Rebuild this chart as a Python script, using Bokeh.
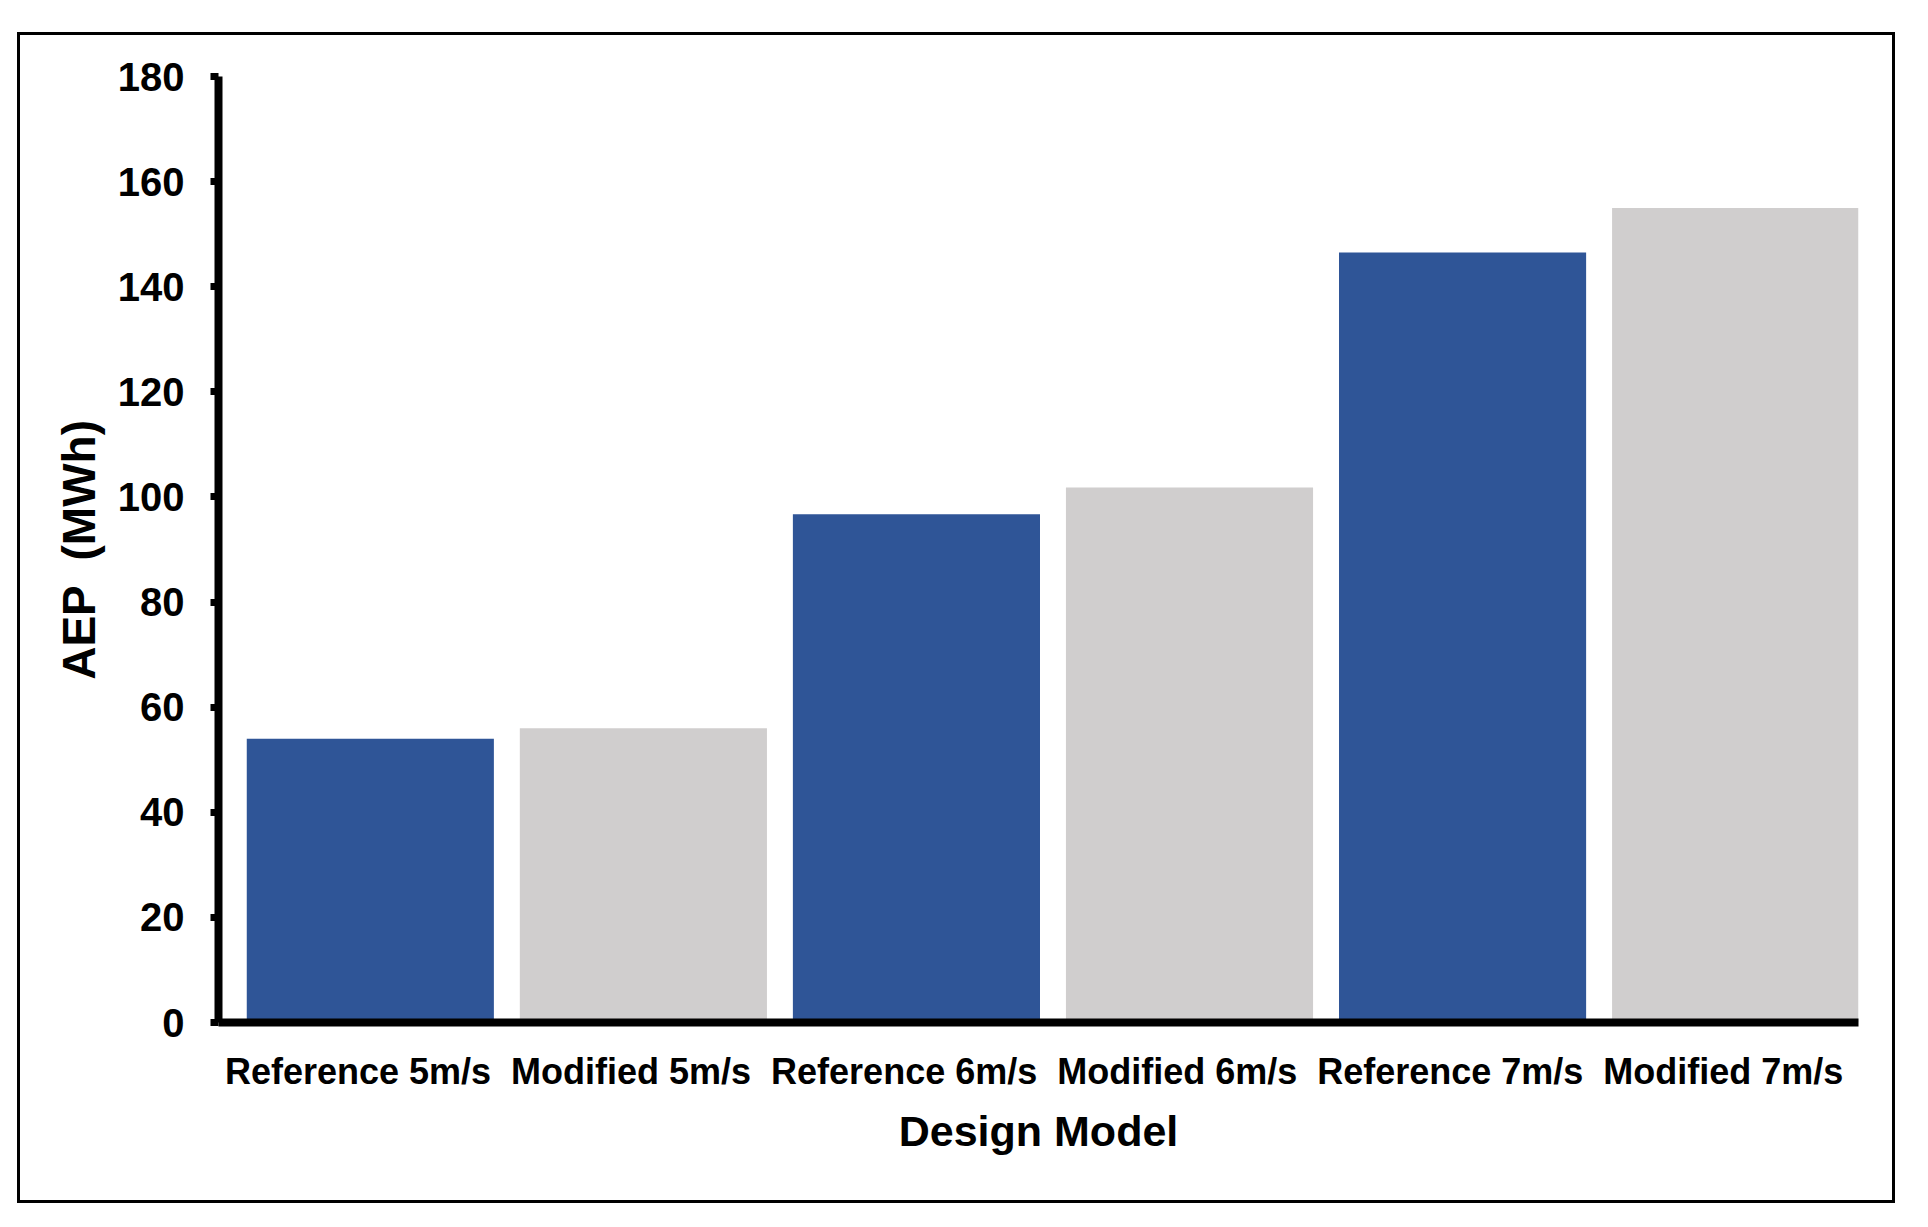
from bokeh.plotting import figure
from bokeh.models import Range1d, FixedTicker, ColumnDataSource, CategoricalColorMapper
from bokeh.embed import file_html
from bokeh.resources import INLINE

categories = ["Reference 5m/s", "Modified 5m/s", "Reference 6m/s",
              "Modified 6m/s", "Reference 7m/s", "Modified 7m/s"]
aep_mwh = [54.0, 56.0, 96.7, 101.8, 146.5, 155.0]
y_ticks = [0, 20, 40, 60, 80, 100, 120, 140, 160, 180]
series_names = ["Reference", "Modified"]

series = [c.split()[0] for c in categories]
x_pos = list(range(len(categories)))

source = ColumnDataSource(dict(x=x_pos, top=aep_mwh, cat=categories, series=series))
mapper = CategoricalColorMapper(factors=series_names, palette=["#2F5597", "#D0CECE"])

p = figure(frame_width=1640, frame_height=946,
           x_range=Range1d(-0.556, 5.45), y_range=Range1d(0, 180),
           output_backend="svg", toolbar_location=None,
           min_border_left=198, min_border_right=34,
           min_border_top=41, min_border_bottom=178)
p.styles = {"border": "3px solid black", "margin-left": "17px", "margin-top": "32px"}

p.vbar(x="x", top="top", width=0.905, source=source,
       fill_color={"field": "series", "transform": mapper}, line_color=None)

p.grid.visible = False
p.outline_line_color = None
p.background_fill_color = "white"
p.border_fill_color = "white"

# y axis
ya = p.yaxis[0]
ya.ticker = FixedTicker(ticks=y_ticks)
ya.minor_tick_line_color = None
ya.axis_line_width = 8
ya.axis_line_color = "black"
ya.major_tick_line_width = 7
ya.major_tick_out = 8
ya.major_tick_in = 0
ya.major_label_standoff = 26
ya.major_label_text_font = "Liberation Sans"
ya.major_label_text_font_style = "bold"
ya.major_label_text_font_size = "40px"
ya.major_label_text_color = "black"
ya.axis_label = "AEP \u00a0(MWh)"
ya.axis_label_text_font = "Liberation Sans"
ya.axis_label_text_font_style = "bold"
ya.axis_label_text_font_size = "46px"
ya.axis_label_text_color = "black"
ya.axis_label_standoff = 10

# x axis (labels sit slightly left of the bar centres, as in the original)
label_shift = 0.045
label_ticks = [i - label_shift for i in x_pos]
xa = p.xaxis[0]
xa.ticker = FixedTicker(ticks=label_ticks)
xa.major_label_overrides = {t: c for t, c in zip(label_ticks, categories)}
xa.minor_tick_line_color = None
xa.major_tick_line_color = None
xa.major_tick_out = 0
xa.major_tick_in = 0
xa.axis_line_width = 8
xa.axis_line_color = "black"
xa.major_label_standoff = 28
xa.major_label_text_font = "Liberation Sans"
xa.major_label_text_font_style = "bold"
xa.major_label_text_font_size = "36px"
xa.major_label_text_color = "black"
xa.axis_label = "Design Model"
xa.axis_label_text_font = "Liberation Sans"
xa.axis_label_text_font_style = "bold"
xa.axis_label_text_font_size = "43px"
xa.axis_label_text_color = "black"
xa.axis_label_standoff = 12

open("out.html", "w").write(file_html(p, INLINE))
